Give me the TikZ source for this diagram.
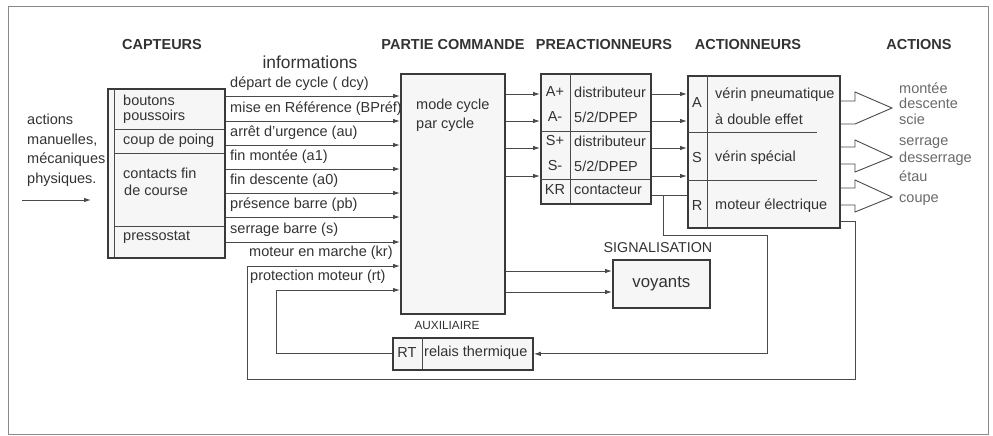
\documentclass[tikz,border=0pt]{standalone}
\usepackage{fontspec}
\setmainfont{Liberation Sans}
\usetikzlibrary{arrows.meta}
\definecolor{txt}{HTML}{333333}
\definecolor{acttxt}{HTML}{6A6A6A}
\definecolor{lineclr}{HTML}{4A4A4A}
\definecolor{boxclr}{HTML}{3A3A3A}
\definecolor{boxfill}{HTML}{F6F6F6}
\definecolor{framegray}{HTML}{8A8A8A}
\begin{document}
\begin{tikzpicture}[x=1pt,y=-1pt,
  ink/.style={draw=lineclr, line width=0.9pt},
  box/.style={draw=boxclr, line width=1.8pt, fill=boxfill, inner sep=0pt, anchor=north west},
  sig/.style={draw=lineclr, line width=0.9pt, -{Latex[length=7pt,width=4.5pt]}},
  lbl/.style={inner sep=0pt, anchor=west, text=txt, font=\fontsize{14.5}{17}\selectfont},
  ctr/.style={inner sep=0pt, text=txt, font=\fontsize{14.5}{17}\selectfont},
  ttl/.style={inner sep=0pt, text=txt, font=\fontsize{14.5}{17}\selectfont\bfseries},
  actlbl/.style={inner sep=0pt, anchor=west, text=acttxt, font=\fontsize{14.5}{17}\selectfont},
]
\useasboundingbox (0,0) rectangle (993,436);
\fill[white] (0,0) rectangle (993,436);
% outer frame
\draw[draw=framegray, line width=0.8pt] (8,6) rectangle (988,434);

% column titles
\node[ttl] (tcap) at (162,45) {CAPTEURS};
\node[ttl] (tpc)  at (453,45) {PARTIE COMMANDE};
\node[ttl] (tpre) at (604,45) {PREACTIONNEURS};
\node[ttl] (tact) at (748,45) {ACTIONNEURS};
\node[ttl] (tacs) at (919,45) {ACTIONS};
\node[inner sep=0pt, text=txt, font=\fontsize{17.4}{20}\selectfont] (info) at (310,62) {informations};

% external actions on the sensors
\node[inner sep=0pt, anchor=north west, text=txt, align=left,
      font=\fontsize{14.5}{19.6}\selectfont] (ext) at (27,114) {actions\\manuelles,\\mécaniques\\physiques.};
\coordinate (extA) at (22,200);
\coordinate (extB) at (91,200);
\draw[sig] (extA) -- (extB);

% main blocks
\node[box, minimum width=117, minimum height=169] (cap) at (107,88) {};
\node[box, minimum width=104, minimum height=240] (pc)  at (400,73) {};
\node[box, minimum width=110, minimum height=130] (pre) at (540,73) {};
\node[box, minimum width=152, minimum height=152] (act) at (687,75) {};
\node[box, minimum width=97,  minimum height=48]  (voy) at (612,259) {};
\node[box, minimum width=140, minimum height=32]  (rt)  at (392,337) {};

% sensors block
\draw[ink] (114,88) -- (114,257);
\draw[ink] (114,129) -- (224,129);
\draw[ink] (114,153) -- (224,153);
\draw[ink] (114,226) -- (224,226);
\node[lbl] (c1) at (123,100) {boutons};
\node[lbl] (c2) at (123,117) {poussoirs};
\node[lbl] (c3) at (123,141) {coup de poing};
\node[lbl] (c4) at (123,173) {contacts fin};
\node[lbl] (c5) at (124,190) {de course};
\node[lbl] (c6) at (123,237) {pressostat};

% control part
\node[lbl] (m1) at (416,106) {mode cycle};
\node[lbl] (m2) at (416,125) {par cycle};
\node[inner sep=0pt, text=txt, font=\fontsize{11.8}{13}\selectfont] (aux) at (447,325) {AUXILIAIRE};

% pre-actuators
\draw[ink] (570,73) -- (570,203);
\draw[ink] (540,131) -- (650,131);
\draw[ink] (540,179) -- (650,179);
\node[ctr] (p1) at (555,92) {A+};
\node[ctr] (p2) at (555,117) {A-};
\node[ctr] (p3) at (555,141) {S+};
\node[ctr] (p4) at (555,166) {S-};
\node[ctr] (p5) at (555,190) {KR};
\node[lbl] (q1) at (574,92) {distributeur};
\node[lbl] (q2) at (574,117) {5/2/DPEP};
\node[lbl] (q3) at (574,141) {distributeur};
\node[lbl] (q4) at (574,166) {5/2/DPEP};
\node[lbl] (q5) at (574,190) {contacteur};

% actuators
\draw[ink] (707,75) -- (707,227);
\draw[ink] (687,132) -- (817,132);
\draw[ink] (687,180) -- (817,180);
\node[ctr] (a1) at (697,103) {A};
\node[ctr] (a2) at (697,158) {S};
\node[ctr] (a3) at (697,206) {R};
\node[lbl] (b1) at (715,95) {vérin pneumatique};
\node[lbl] (b2) at (715,119) {à double effet};
\node[lbl] (b3) at (715,158) {vérin spécial};
\node[lbl] (b4) at (715,206) {moteur électrique};

% signalling
\node[inner sep=0pt, text=txt, font=\fontsize{14.3}{17}\selectfont] (sigt) at (658,248) {SIGNALISATION};
\node[inner sep=0pt, text=txt, font=\fontsize{16.8}{20}\selectfont] (voyt) at (voy.center) {voyants};

% thermal relay
\draw[ink] (422,337) -- (422,369);
\node[ctr] (rt1) at (407,353) {RT};
\node[lbl] (rt2) at (424,353) {relais thermique};

% information lines from the sensors
\foreach \y/\t in {96/{départ de cycle ( dcy)}, 121/{mise en Référence (BPréf)},
                   145/{arrêt d'urgence (au)}, 169/{fin montée (a1)},
                   193/{fin descente (a0)}, 217/{présence barre (pb)},
                   242/{serrage barre (s)}}{
  \draw[sig] (cap.east |- 0,\y) -- (pc.west |- 0,\y);
  \node[lbl] (i\y) at (230,\y-12) {\t};
}
\node[lbl] (ikr) at (249,253) {moteur en marche (kr)};
\node[lbl] (irt) at (250,277) {protection moteur (rt)};

% orders to the pre-actuators and actuators
\foreach \y in {94,121,148,176}{
  \draw[sig] (pc.east |- 0,\y) -- (pre.west |- 0,\y);
  \draw[sig] (pre.east |- 0,\y) -- (act.west |- 0,\y);
}
% contactor to motor and thermal relay
\draw[ink] (pre.east |- 0,195) -- (act.west |- 0,195);
\coordinate (krb) at (663,195);
\draw[sig] (krb) |- (767,235) |- (rt.east);

% feedback: motor running, motor protection
\draw[sig] (act.east |- 0,221) -| (855,379) -| (247,266) -- (pc.west |- 0,266);
\draw[sig] (rt.west) -| (276,290) -- (pc.west |- 0,290);

% signalling outputs
\draw[sig] (pc.east |- 0,271) -- (voy.west |- 0,271);
\draw[sig] (pc.east |- 0,292) -- (voy.west |- 0,292);

% hollow arrows towards the actions
\draw[ink, line join=miter] (act.east |- 0,101) -- (855,101) -- (855,92) -- (892,108) -- (855,124) -- (act.east |- 0,124);
\draw[ink, line join=miter] (act.east |- 0,147) -- (855,147) -- (855,140) -- (892,157) -- (855,172) -- (855,164) -- (act.east |- 0,164);
\draw[ink, line join=miter] (act.east |- 0,188) -- (855,188) -- (855,180) -- (892,197) -- (855,212) -- (855,205) -- (act.east |- 0,205);

% actions
\node[actlbl] (o1) at (899,88)  {montée};
\node[actlbl] (o2) at (899,103) {descente};
\node[actlbl] (o3) at (899,119) {scie};
\node[actlbl] (o4) at (899,143) {serrage};
\node[actlbl] (o5) at (899,159) {desserrage};
\node[actlbl] (o6) at (899,176) {étau};
\node[actlbl] (o7) at (899,200) {coupe};
\end{tikzpicture}
\end{document}
